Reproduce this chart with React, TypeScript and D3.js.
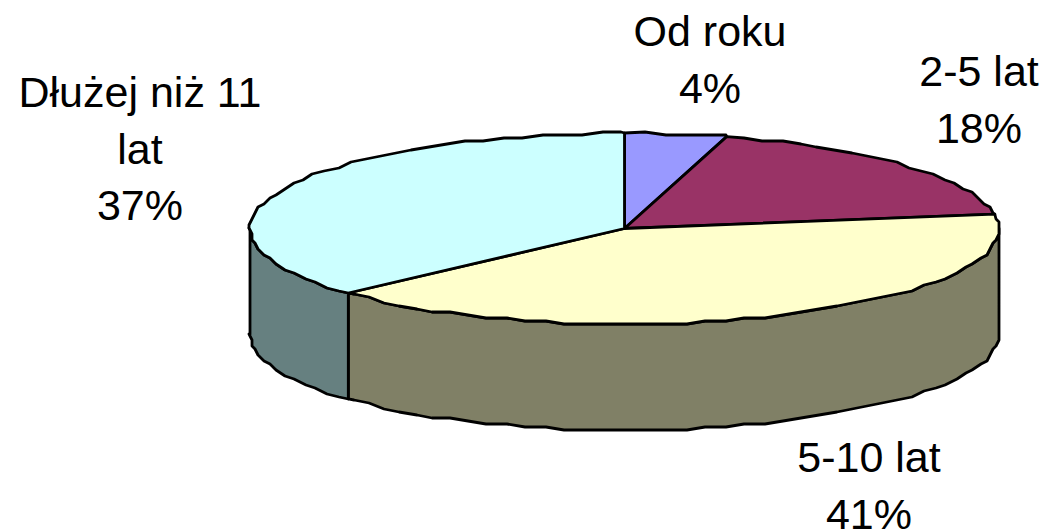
import React from "react";
import * as d3 from "d3";

const labels = ["Od roku", "2-5 lat", "5-10 lat", "Dłużej niż 11 lat"];
const values = [4.4, 18.2, 40.6, 36.8];
const topColors = ["#9999ff", "#993366", "#ffffcc", "#ccffff"];
const sideColors = ["#4d4d80", "#4d1a33", "#808066", "#668080"];
const labelLines = [["Od roku", "4%"], ["2-5 lat", "18%"], ["5-10 lat", "41%"], ["Dłużej niż 11", "lat", "37%"]];
const labelPos = [[710, 46], [979, 86], [869, 472], [140, 107]];

const cx = 624.5, cy = 228.5, rx = 374.5, ry = 95.5, depth = 106;
const lineH = 56.5;
const stepDeg = 3.1, grid = 3;

export default function App() {
  const pie = d3.pie<number>().value(d => d).sort(null).startAngle(0).endAngle(2 * Math.PI);
  const arcs = pie(values);
  const pt = (a: number, dy = 0): [number, number] => [cx + rx * Math.sin(a), cy - ry * Math.cos(a) + dy];
  const snap = (p: [number, number], dy: number): [number, number] => [
    Math.round(p[0] / grid) * grid,
    Math.round((p[1] - dy) / grid) * grid + dy,
  ];
  const line = d3.line();
  // Coarse, snapped outline: the reference is a low-resolution polygon, not a smooth ellipse
  const sample = (a0: number, a1: number, dy = 0): [number, number][] => {
    const step = (stepDeg * Math.PI) / 180;
    const k0 = Math.ceil(Math.min(a0, a1) / step + 1e-6);
    const k1 = Math.floor(Math.max(a0, a1) / step - 1e-6);
    const inner = d3.range(k0, k1 + 1).map(k => snap(pt(k * step, dy), dy));
    if (a0 > a1) inner.reverse();
    return [pt(a0, dy), ...inner, pt(a1, dy)];
  };
  return (
    <svg width={1046} height={531} style={{ position: "absolute", left: 0, top: 0, background: "#fff" }}>
      {arcs.map((a, i) => {
        const s = Math.max(a.startAngle, Math.PI / 2);
        const e = Math.min(a.endAngle, (3 * Math.PI) / 2);
        if (s >= e) return null;
        const pts = [...sample(s, e), ...sample(e, s, depth)];
        return <path key={i} d={line(pts)! + "Z"} fill={sideColors[i]} stroke="#000" strokeWidth={2.8} strokeLinejoin="round" />;
      })}
      {arcs.map((a, i) => {
        const pts: [number, number][] = [[cx, cy], ...sample(a.startAngle, a.endAngle)];
        return <path key={i} d={line(pts)! + "Z"} fill={topColors[i]} stroke="#000" strokeWidth={2.8} strokeLinejoin="round" />;
      })}
      {labelLines.map((ls, i) => (
        <text key={labels[i]} textAnchor="middle" fontFamily="Liberation Sans" fontSize={43} fill="#000">
          {ls.map((l, j) => <tspan key={j} x={labelPos[i][0]} y={labelPos[i][1] + j * lineH}>{l}</tspan>)}
        </text>
      ))}
    </svg>
  );
}
